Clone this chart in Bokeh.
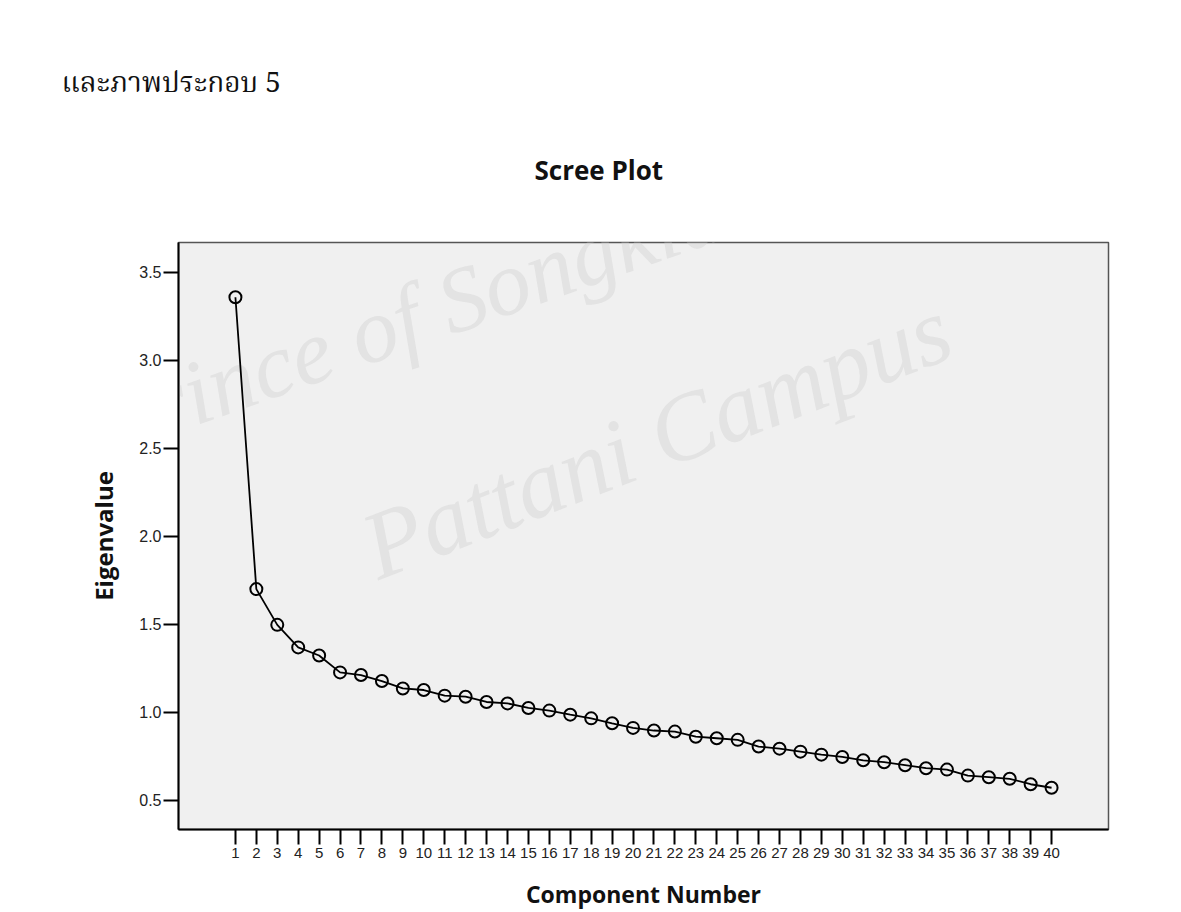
from bokeh.plotting import figure
from bokeh.models import Range1d, FixedTicker, Label, PrintfTickFormatter, Title
from bokeh.embed import file_html
from bokeh.resources import INLINE

# ---- data ----
components = list(range(1, 41))
eigenvalues = [3.357, 1.700, 1.497, 1.369, 1.323, 1.227, 1.212, 1.178, 1.136, 1.127,
               1.095, 1.089, 1.059, 1.051, 1.025, 1.010, 0.987, 0.966, 0.938, 0.912,
               0.897, 0.891, 0.862, 0.853, 0.844, 0.806, 0.794, 0.777, 0.760, 0.747,
               0.728, 0.717, 0.700, 0.683, 0.675, 0.641, 0.632, 0.623, 0.592, 0.572]
y_ticks = [0.5, 1.0, 1.5, 2.0, 2.5, 3.0, 3.5]
x_ticks = components
chart_title = "Scree Plot"
x_label = "Component Number"
y_label = "Eigenvalue"
caption = "และภาพประกอบ 5"
watermark_1 = "Prince of Songkla University"
watermark_2 = "Pattani Campus"

# ---- figure ----
p = figure(width=1165, height=912, output_backend="svg", toolbar_location=None,
           x_range=Range1d(-1.72, 42.72), y_range=Range1d(0.335, 3.668),
           min_border_left=178, min_border_right=57, min_border_top=242,
           min_border_bottom=82)

p.background_fill_color = "#f0f0f0"
p.border_fill_color = "white"
p.outline_line_color = "#555555"
p.outline_line_width = 1.5
p.grid.visible = False

# caption line (outermost) and chart title (next to the frame)
p.title.text = caption
p.title.align = "left"
p.title.offset = -117
p.title.vertical_align = "middle"
p.title.standoff = -20
p.title.text_font = "'Noto Serif Thai', 'Noto Sans Thai', 'Liberation Serif', serif"
p.title.text_font_style = "normal"
p.title.text_font_size = "28px"
p.title.text_color = "#111111"

p.add_layout(Title(text=chart_title, align="left", offset=356, vertical_align="middle",
                   standoff=107, text_font="Open Sans", text_font_style="bold",
                   text_font_size="26px", text_color="#111111"), "above")

# x axis
xa = p.xaxis[0]
xa.ticker = FixedTicker(ticks=x_ticks)
xa.axis_line_color = "black"
xa.axis_line_width = 2
xa.major_tick_in = 0
xa.major_tick_out = 15
xa.major_tick_line_width = 2
xa.major_tick_line_color = "black"
xa.minor_tick_line_color = None
xa.major_label_text_font = "Liberation Sans"
xa.major_label_text_font_size = "15px"
xa.major_label_text_color = "#222222"
xa.major_label_standoff = 3
xa.axis_label = x_label
xa.axis_label_text_font = "Open Sans"
xa.axis_label_text_font_style = "bold"
xa.axis_label_text_font_size = "23px"
xa.axis_label_text_color = "#111111"
xa.axis_label_standoff = 17

# y axis
ya = p.yaxis[0]
ya.ticker = FixedTicker(ticks=y_ticks)
ya.formatter = PrintfTickFormatter(format="%.1f")
ya.axis_line_color = "black"
ya.axis_line_width = 2
ya.major_tick_in = 0
ya.major_tick_out = 15
ya.major_tick_line_width = 2
ya.major_tick_line_color = "black"
ya.minor_tick_line_color = None
ya.major_label_text_font = "Liberation Sans"
ya.major_label_text_font_size = "16px"
ya.major_label_text_color = "#222222"
ya.major_label_standoff = 2
ya.axis_label = y_label
ya.axis_label_text_font = "Open Sans"
ya.axis_label_text_font_style = "bold"
ya.axis_label_text_font_size = "24px"
ya.axis_label_text_color = "#111111"
ya.axis_label_standoff = 16

# watermark (faint, beneath data)
wm_font = "Liberation Serif"
p.add_layout(Label(x=422, y=580, x_units="screen", y_units="screen", text=watermark_1,
                   angle=0.34, text_align="center", text_baseline="middle",
                   text_font=wm_font, text_font_style="italic", text_font_size="92px",
                   text_color="#d6d6d6", text_alpha=0.5, level="underlay"))
p.add_layout(Label(x=478, y=392, x_units="screen", y_units="screen", text=watermark_2,
                   angle=0.37, text_align="center", text_baseline="middle",
                   text_font=wm_font, text_font_style="italic", text_font_size="96px",
                   text_color="#d6d6d6", text_alpha=0.5, level="underlay"))

# data
p.line(components, eigenvalues, line_color="black", line_width=1.8)
p.scatter(components, eigenvalues, marker="circle", size=12, fill_color="#f0f0f0",
          fill_alpha=0.0, line_color="black", line_width=2)

open("out.html", "w").write(file_html(p, INLINE))
